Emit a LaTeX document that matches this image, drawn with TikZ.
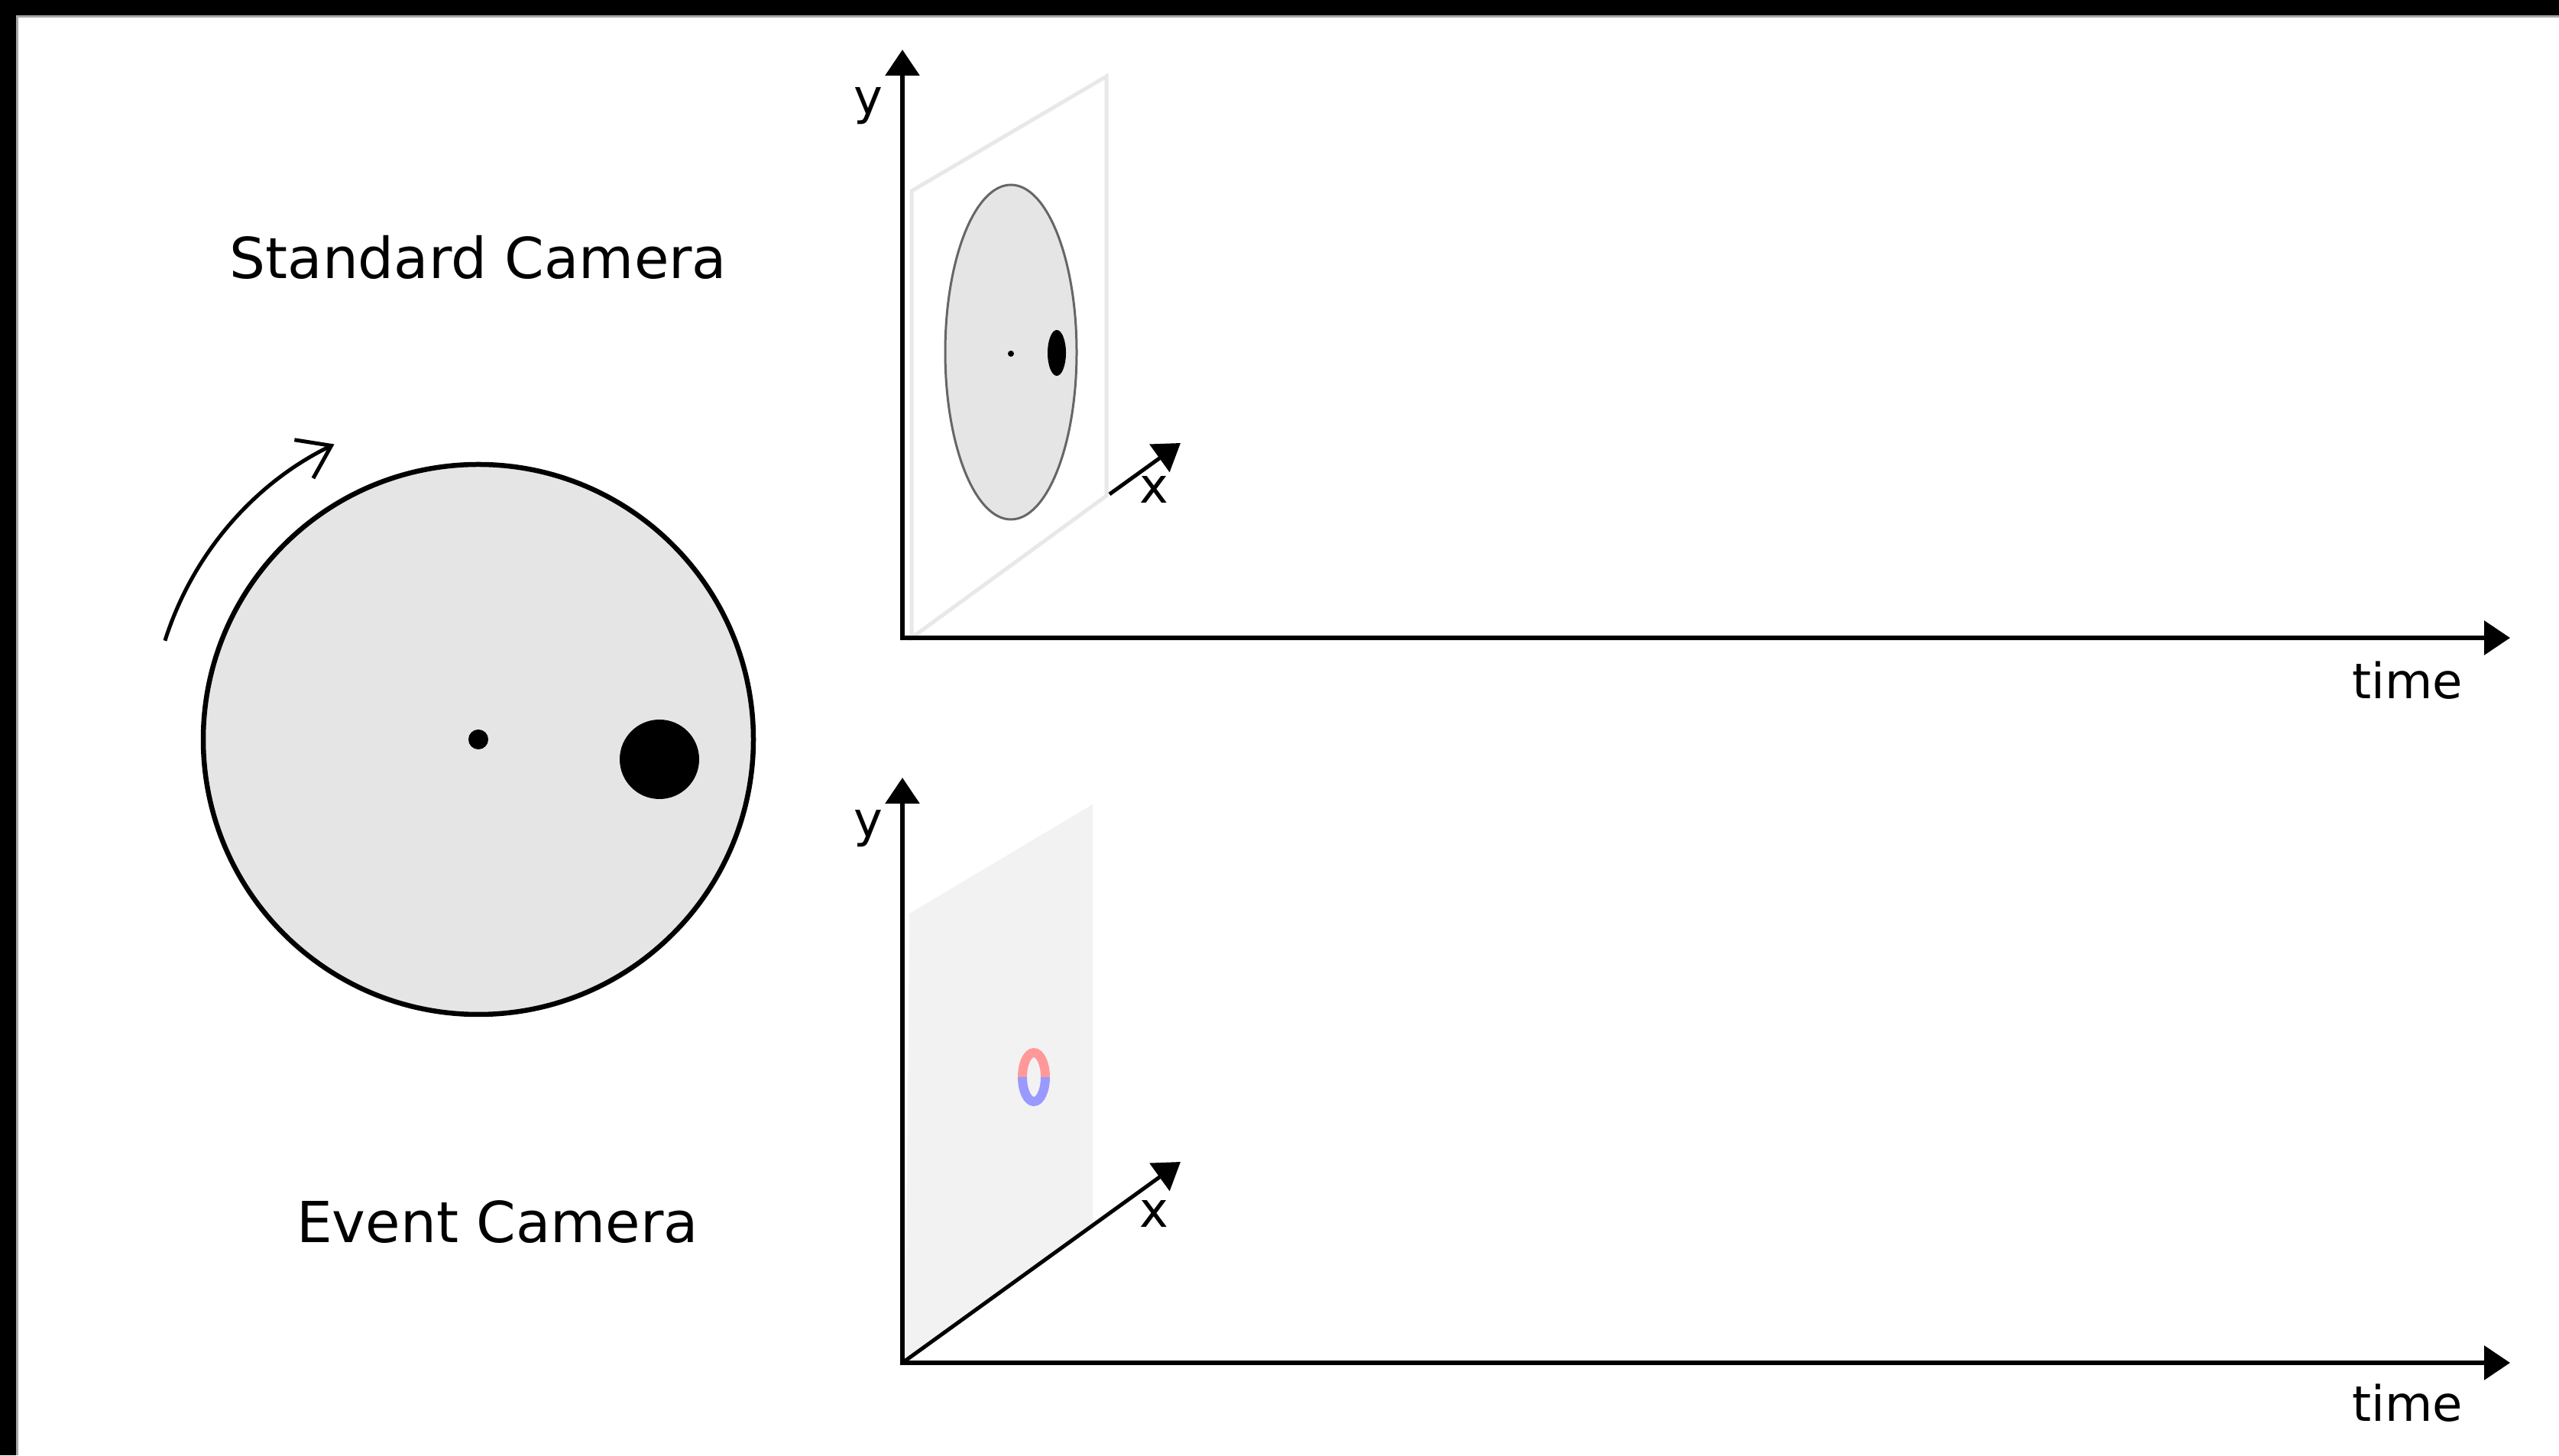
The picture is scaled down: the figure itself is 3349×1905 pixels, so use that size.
\documentclass[tikz,border=0pt]{standalone}
\usepackage{fontspec}
\setmainfont{DejaVu Sans}
\usetikzlibrary{arrows.meta}

\begin{document}
\begin{tikzpicture}[x=0.5pt,y=0.5pt,
 lbl/.style={font=\fontsize{37}{44}\selectfont,inner sep=0pt},
 axlbl/.style={font=\fontsize{32}{38}\selectfont,inner sep=0pt},
 axis/.style={line width=3pt,{Triangle[length=17pt,width=22pt]}-{Triangle[length=17pt,width=22pt]}},
 xaxis/.style={line width=2.5pt,-{Triangle[length=17pt,width=22pt]}},
 disc/.style={fill=black!10,draw=black,line width=3.25pt},
 frameedge/.style={draw=black!9,line width=2.5pt}]
\useasboundingbox (0,0) rectangle (3349,1905);
\fill[white] (0,0) rectangle (3349,1905);
% screen border
\fill[black] (0,1885) rectangle (3349,1905);
\fill[black] (0,0) rectangle (21,1905);
\fill[black!35] (21,1882) rectangle (3349,1885);
\fill[black!35] (21,0) rectangle (24,1882);

% rotating disc
\coordinate (disccentre) at (626,937);
\draw[disc] (disccentre) circle[radius=360];
\fill (disccentre) circle[radius=13];
\fill (863,911) circle[radius=52];
\draw[line width=2.5pt,-{Straight Barb[length=20pt,width=28pt]}]
  ([shift={(162.5:430)}]disccentre) arc[start angle=162.5,end angle=116,radius=430];
\node[lbl] (stdcam) at (626,1568) {Standard Camera};
\node[lbl] (evcam) at (651,305) {Event Camera};

% standard camera frames
\coordinate (o1) at (1181,1070);
\coordinate (y1) at (1181,1840);
\coordinate (t1) at (3285,1070);
\coordinate (xs1) at (1452,1258);
\coordinate (xt1) at (1545,1325);
\draw[frameedge] (1193,1070) -- (1193,1655) -- (1448,1805) -- (1448,1256) -- cycle;
\draw[fill=black!10,draw=black!60,line width=1.5pt] (1323,1444) ellipse[x radius=86,y radius=219];
\fill (1323,1442) circle[radius=4];
\fill (1383,1443) ellipse[x radius=12,y radius=30];
\draw[axis] (y1) -- (o1) -- (t1);
\draw[xaxis] (xs1) -- (xt1);
\node[axlbl] (ylab1) at (1136,1766) {y};
\node[axlbl] (xlab1) at (1510,1264) {x};
\node[axlbl] (tlab1) at (3151,1014) {time};

% event camera stream
\coordinate (o2) at (1181,121);
\coordinate (y2) at (1181,887);
\coordinate (t2) at (3285,121);
\coordinate (xt2) at (1545,384);
\fill[black!5] (1185,121) -- (1190,709) -- (1430,852) -- (1430,300) -- cycle;
\draw[line width=6pt,red!40!white] (1368,495) arc[start angle=0,end angle=180,x radius=15,y radius=32];
\draw[line width=6pt,blue!40!white] (1338,495) arc[start angle=180,end angle=360,x radius=15,y radius=32];
\draw[axis] (y2) -- (o2) -- (t2);
\draw[xaxis] (o2) -- (xt2);
\node[axlbl] (ylab2) at (1136,820) {y};
\node[axlbl] (xlab2) at (1510,316) {x};
\node[axlbl] (tlab2) at (3151,68) {time};
\end{tikzpicture}
\end{document}
